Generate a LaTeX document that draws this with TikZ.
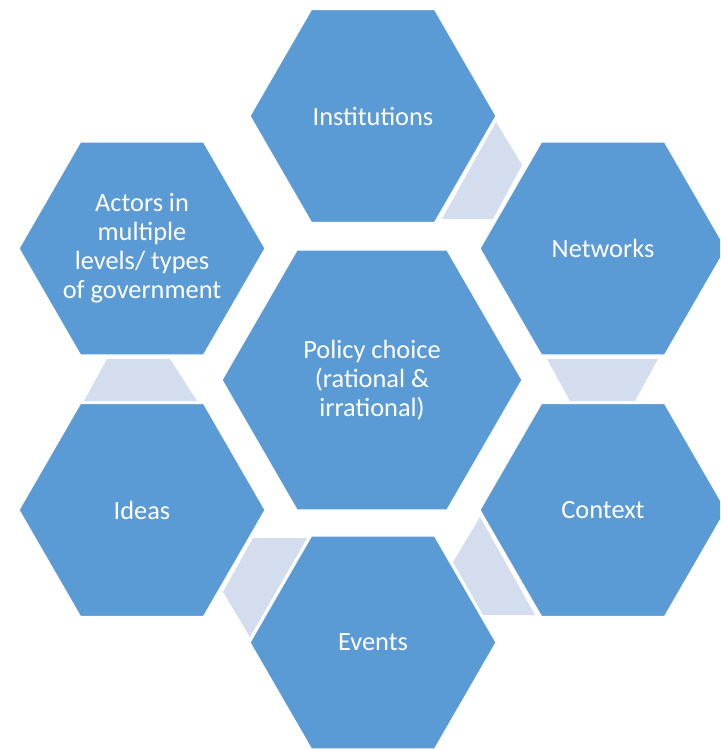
\documentclass[tikz,border=0pt]{standalone}
\usepackage{fontspec}
\setmainfont{Carlito}
\usetikzlibrary{shapes.geometric}
\definecolor{hexblue}{HTML}{5B9BD5}
\definecolor{gapgray}{HTML}{D3DDEE}
\tikzset{
  hexcell/.style={regular polygon, regular polygon sides=6, fill=hexblue,
    draw=white, line width=0.6pt, inner sep=-20pt, minimum size=4.92cm,
    text=white, align=center, font=\fontsize{15}{16.5}\selectfont},
  bighex/.style={hexcell, minimum size=6cm},
  gapfill/.style={fill=gapgray}
}
\begin{document}
\begin{tikzpicture}[x=0.02cm, y=-0.02cm]
        \useasboundingbox (0,0) rectangle (720,749);
        \clip (0,0) rectangle (720,749);
        % light fillers between neighbouring cells
        \fill[gapfill] (442,219) -- (493,219) -- (522,165) -- (496,122) -- cycle;
        \fill[gapfill] (547,359) -- (658,359) -- (635,401) -- (570,401) -- cycle;
        \fill[gapfill] (480,517) -- (453,562) -- (483,615) -- (535,615) -- cycle;
        \fill[gapfill] (253,538) -- (307,538) -- (250,637) -- (223,592) -- cycle;
        \fill[gapfill] (107,359) -- (170,359) -- (197,401) -- (84,401) -- cycle;
        % cells
        \node[bighex] (policy) at (372,380) {Policy choice\\(rational \&\\irrational)};
        \node[hexcell] (institutions) at (373,116) {Institutions};
        \node[hexcell] (networks) at (603,248.5) {Networks};
        \node[hexcell] (context) at (603,510) {Context};
        \node[hexcell] (events) at (373,642.5) {Events};
        \node[hexcell] (ideas) at (142,510) {Ideas};
        \node[hexcell] (actors) at (142,248.5) {Actors in\\multiple\\levels/ types\\of government};
    \end{tikzpicture}
\end{document}
